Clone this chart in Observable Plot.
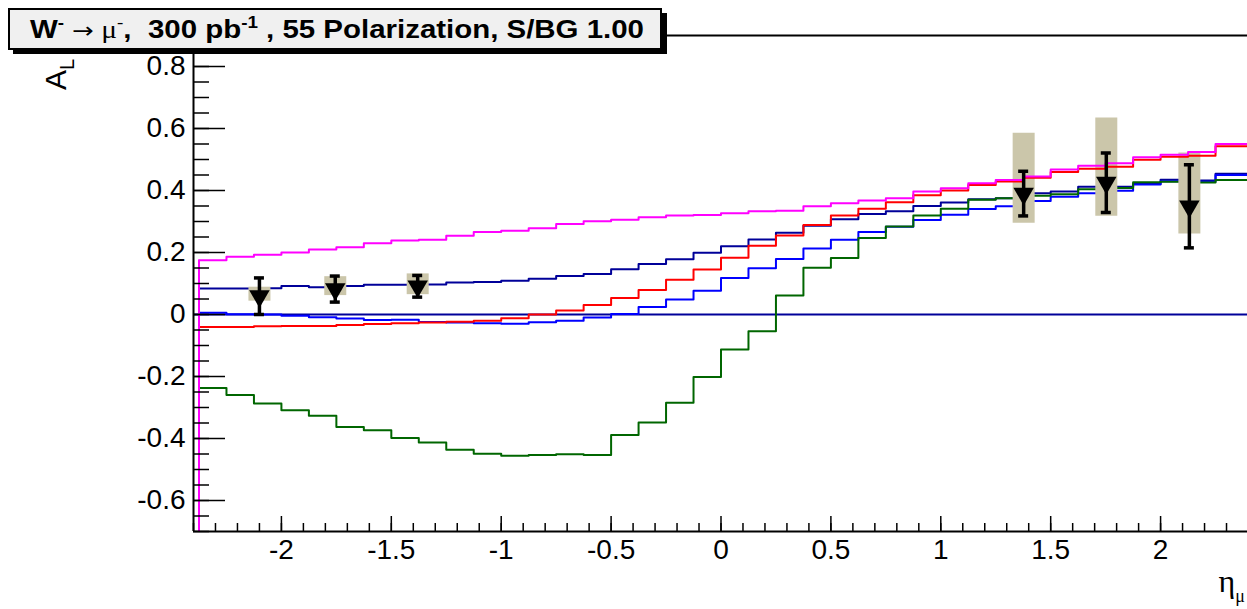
<!DOCTYPE html>
<html>
<head>
<meta charset="utf-8">
<script src="https://cdn.jsdelivr.net/npm/d3@7"></script>
<script src="https://cdn.jsdelivr.net/npm/@observablehq/plot@0.6"></script>
<style>
  html, body { margin: 0; padding: 0; background: #fff; }
  #wrap { position: relative; width: 1247px; height: 609px; overflow: hidden; }
  #wrap > svg { position: absolute; left: 0; top: 0; }
  #overlay { pointer-events: none; }
</style>
</head>
<body>
<div id="wrap"></div>
<script>
// ---- data ----
// low edges of the eta bins (bin width 0.125)
const etaLow = [-2.375, -2.25, -2.125, -2, -1.875, -1.75, -1.625, -1.5, -1.375, -1.25,
  -1.125, -1, -0.875, -0.75, -0.625, -0.5, -0.375, -0.25, -0.125, 0,
  0.125, 0.25, 0.375, 0.5, 0.625, 0.75, 0.875, 1, 1.125, 1.25,
  1.375, 1.5, 1.625, 1.75, 1.875, 2, 2.125, 2.25];

const magentaAL = [0.175, 0.186, 0.193, 0.200, 0.210, 0.217, 0.230, 0.239, 0.241, 0.254,
  0.266, 0.270, 0.278, 0.292, 0.301, 0.306, 0.314, 0.319, 0.321, 0.327,
  0.333, 0.335, 0.349, 0.359, 0.368, 0.375, 0.397, 0.407, 0.423, 0.434,
  0.445, 0.468, 0.480, 0.488, 0.507, 0.515, 0.524, 0.550];

const redAL = [-0.040, -0.040, -0.038, -0.037, -0.037, -0.034, -0.031, -0.028, -0.026, -0.023,
  -0.020, -0.012, 0.000, 0.013, 0.031, 0.053, 0.079, 0.112, 0.145, 0.183,
  0.222, 0.255, 0.289, 0.319, 0.341, 0.362, 0.385, 0.400, 0.418, 0.429,
  0.441, 0.460, 0.470, 0.477, 0.499, 0.509, 0.512, 0.543];

const navyAL = [0.084, 0.084, 0.085, 0.092, 0.088, 0.092, 0.096, 0.096, 0.097, 0.103,
  0.105, 0.109, 0.115, 0.124, 0.131, 0.146, 0.163, 0.178, 0.199, 0.220,
  0.242, 0.264, 0.286, 0.307, 0.324, 0.333, 0.350, 0.361, 0.372, 0.375,
  0.391, 0.397, 0.412, 0.412, 0.421, 0.435, 0.432, 0.454];

const blueAL = [0.006, 0.001, 0.000, -0.004, -0.009, -0.013, -0.018, -0.017, -0.024, -0.026,
  -0.028, -0.030, -0.025, -0.020, -0.010, 0.002, 0.024, 0.048, 0.077, 0.118,
  0.149, 0.179, 0.213, 0.241, 0.266, 0.283, 0.305, 0.322, 0.340, 0.349,
  0.366, 0.380, 0.391, 0.399, 0.419, 0.430, 0.428, 0.450];

const greenAL = [-0.237, -0.260, -0.287, -0.309, -0.327, -0.363, -0.373, -0.398, -0.413, -0.436,
  -0.449, -0.456, -0.453, -0.451, -0.453, -0.389, -0.348, -0.285, -0.202, -0.113,
  -0.054, 0.061, 0.151, 0.182, 0.247, 0.284, 0.319, 0.341, 0.370, 0.375,
  0.383, 0.388, 0.404, 0.408, 0.427, 0.428, 0.426, 0.434];

// pseudo-data points (downward triangles)
const ptEta   = [-2.10, -1.755, -1.38, 1.377, 1.753, 2.131];
const ptAL    = [0.059, 0.082, 0.091, 0.390, 0.425, 0.349];
const ptStat  = [0.059, 0.042, 0.035, 0.072, 0.096, 0.134];
const ptSystLo = [0.043, 0.061, 0.064, 0.294, 0.317, 0.260];
const ptSystHi = [0.088, 0.122, 0.131, 0.585, 0.634, 0.521];

const xTicks = [-2, -1.5, -1, -0.5, 0, 0.5, 1, 1.5, 2];
const yTicks = [-0.6, -0.4, -0.2, 0, 0.2, 0.4, 0.6, 0.8];
const xDomain = [-2.4, 2.4];
const yDomain = [-0.7, 0.9];

// ---- derived tables ----
const xMinor = d3.range(-24, 25).map(i => i / 10);
const yMinor = d3.range(-14, 19).map(i => i / 20);
const steps = v => etaLow.map((e, i) => ({x: e, y: v[i]})).concat([{x: xDomain[1], y: v[v.length - 1]}]);
const pts = ptEta.map((e, i) => ({
  eta: e, al: ptAL[i], lo: ptAL[i] - ptStat[i], hi: ptAL[i] + ptStat[i],
  slo: ptSystLo[i], shi: ptSystHi[i]
}));

const series = [
  {v: navyAL, c: "#000099"},
  {v: blueAL, c: "#0000ff"},
  {v: greenAL, c: "#006600"},
];
const seriesTop = [
  {v: redAL, c: "#ff0000"},
  {v: magentaAL, c: "#ff00ff"},
];
const histMarks = s => [
  Plot.ruleX([{x: etaLow[0], y2: s.v[0]}], {x: "x", y1: yDomain[0], y2: "y2", stroke: s.c, strokeWidth: 2}),
  Plot.line(steps(s.v), {x: "x", y: "y", curve: "step-after", stroke: s.c, strokeWidth: 2})
];

const plot = Plot.plot({
  width: 1247, height: 609,
  marginLeft: 193, marginRight: 0, marginTop: 35, marginBottom: 78,
  x: {domain: xDomain, range: [193, 1248]},
  y: {domain: yDomain, range: [531, 35]},
  style: {fontFamily: "'Liberation Sans', Arial, sans-serif", fontSize: "28px", color: "#000", background: "#fff"},
  marks: [
    Plot.ruleY([0], {stroke: "#000099", strokeWidth: 2}),
    ...series.flatMap(histMarks),
    Plot.ruleX(pts, {x: "eta", y1: "slo", y2: "shi", stroke: "#cbc6aa", strokeWidth: 22}),
    ...seriesTop.flatMap(histMarks),
    Plot.ruleX(pts, {x: "eta", y1: "lo", y2: "hi", stroke: "#000", strokeWidth: 3.5}),
    Plot.ruleY(pts, {y: "hi", x1: "eta", x2: "eta", insetLeft: -5, insetRight: -5, stroke: "#000", strokeWidth: 3.5}),
    Plot.ruleY(pts, {y: "lo", x1: "eta", x2: "eta", insetLeft: -5, insetRight: -5, stroke: "#000", strokeWidth: 3.5}),
    Plot.dot(pts, {x: "eta", y: "al", symbol: "triangle", rotate: 180, r: 7.6, fill: "#000", stroke: "none"}),
    // axes (ROOT style: ticks pointing into the frame)
    Plot.axisY(yMinor, {tickSize: -16, fill: "none", label: null, strokeWidth: 1.5}),
    Plot.axisY(yTicks, {tickSize: -32, fill: "none", label: null, strokeWidth: 1.5}),
    Plot.axisY(yTicks, {tickSize: 0, tickPadding: 8, tickFormat: d => String(d), label: null}),
    Plot.axisX(xMinor, {tickSize: -8, fill: "none", label: null, strokeWidth: 1.5}),
    Plot.axisX(xTicks, {tickSize: -15, fill: "none", label: null, strokeWidth: 1.5}),
    Plot.axisX(xTicks, {tickSize: 0, tickPadding: 8, tickFormat: d => String(d), label: null}),
    Plot.ruleX([xDomain[0]], {stroke: "#000", strokeWidth: 2}),
    Plot.ruleY([yDomain[0]], {stroke: "#000", strokeWidth: 2}),
    Plot.ruleY([yDomain[1]], {stroke: "#000", strokeWidth: 2})
  ]
});
document.getElementById("wrap").appendChild(plot);

// ---- overlay: title box and axis titles ----
const ns = "http://www.w3.org/2000/svg";
const ov = document.createElementNS(ns, "svg");
ov.setAttribute("id", "overlay");
ov.setAttribute("width", 1247);
ov.setAttribute("height", 609);
ov.innerHTML = `
  <rect x="13" y="13" width="654" height="41" fill="#000"/>
  <rect x="9" y="9" width="652" height="40" fill="#f0f0f0" stroke="#000" stroke-width="2"/>
  <text x="337" y="38" text-anchor="middle" font-family="'Liberation Sans', Arial, sans-serif" font-weight="bold" font-size="25" style="white-space:pre" textLength="614" lengthAdjust="spacingAndGlyphs">W<tspan font-size="16" dy="-10">-</tspan><tspan dy="10"> </tspan><tspan font-family="'DejaVu Sans',sans-serif" font-weight="normal" font-size="22">→</tspan><tspan font-family="'Liberation Serif','DejaVu Serif',serif" font-weight="normal"> μ</tspan><tspan font-size="16" dy="-10" font-family="'Liberation Serif',serif" font-weight="normal">-</tspan><tspan dy="10">,  300 pb</tspan><tspan font-size="16" dy="-10">-1</tspan><tspan dy="10"> , 55 Polarization, S/BG 1.00</tspan></text>
  <text transform="translate(66,90) rotate(-90)" font-family="'Liberation Sans', Arial, sans-serif" font-size="30">A<tspan font-size="20" dy="8">L</tspan></text>
  <text x="1245" y="592" text-anchor="end" font-family="'Liberation Serif','DejaVu Serif',serif" font-size="32">η<tspan font-size="18" dy="10">μ</tspan></text>
`;
document.getElementById("wrap").appendChild(ov);
</script>
</body>
</html>
